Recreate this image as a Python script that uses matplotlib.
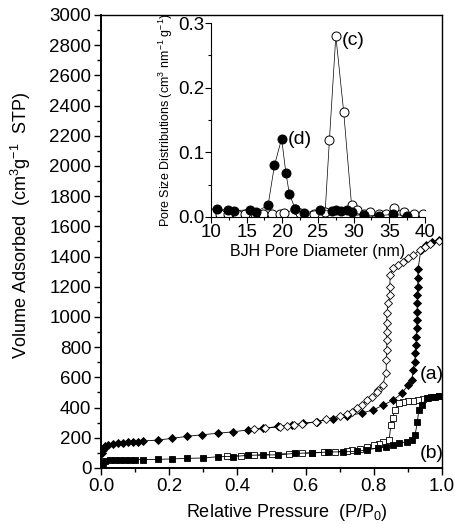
import matplotlib
matplotlib.use("Agg")
import matplotlib.pyplot as plt
from matplotlib.ticker import MultipleLocator

plt.rcParams['font.family'] = ['Liberation Sans', 'DejaVu Sans']
plt.rcParams['mathtext.fontset'] = 'custom'
plt.rcParams['mathtext.rm'] = 'Liberation Sans'
plt.rcParams['mathtext.it'] = 'Liberation Sans:italic'

# ----------------------
# Isotherm (a): adsorption (filled diamonds) / desorption (open diamonds)
# ----------------------
a_ads_p = [0.004, 0.006, 0.008, 0.012, 0.021, 0.036, 0.051, 0.065, 0.080, 0.095, 0.109, 0.124,
           0.168, 0.207, 0.251, 0.295, 0.344, 0.388, 0.432, 0.475, 0.520, 0.560, 0.593, 0.633,
           0.680, 0.720, 0.764, 0.798, 0.828, 0.857, 0.882, 0.901, 0.911, 0.916, 0.920, 0.922,
           0.924, 0.925, 0.926, 0.927, 0.927, 0.928, 0.928, 0.929, 0.929, 0.930, 0.938, 0.952,
           0.972, 0.990]
a_ads_v = [97, 119, 135, 145, 152, 159, 163, 168, 170, 172, 174, 179,
           185, 196, 209, 220, 230, 240, 252, 263, 275, 286, 296, 307,
           325, 344, 364, 384, 417, 450, 494, 550, 583, 649, 705, 760,
           815, 870, 925, 980, 1035, 1090, 1145, 1200, 1255, 1320, 1444, 1477,
           1497, 1510]

a_des_p = [0.990, 0.965, 0.950, 0.935, 0.916, 0.901, 0.887, 0.872, 0.857, 0.848, 0.847, 0.847,
           0.843, 0.838, 0.838, 0.838, 0.838, 0.838, 0.837, 0.836, 0.826, 0.813, 0.808, 0.794,
           0.780, 0.765, 0.750, 0.735, 0.720, 0.700, 0.660, 0.630, 0.590, 0.565, 0.545, 0.525,
           0.480, 0.450]
a_des_v = [1505, 1481, 1466, 1444, 1410, 1388, 1366, 1344, 1322, 1278, 1200, 1146,
           1093, 1026, 960, 900, 848, 780, 715, 629, 550, 517, 506, 472,
           450, 420, 397, 373, 360, 345, 322, 305, 292, 285, 278, 273,
           263, 255]

# ----------------------
# Isotherm (b): adsorption (filled squares) / desorption (open squares)
# ----------------------
b_ads_p = [0.003, 0.005, 0.012, 0.026, 0.040, 0.055, 0.070, 0.085, 0.100, 0.124, 0.168, 0.207,
           0.251, 0.300, 0.344, 0.388, 0.432, 0.475, 0.520, 0.570, 0.620, 0.666, 0.710, 0.750,
           0.780, 0.812, 0.835, 0.857, 0.875, 0.896, 0.912, 0.921, 0.928, 0.932, 0.940, 0.955,
           0.968, 0.979, 0.990]
b_ads_v = [12, 33, 44, 50, 52, 53, 54, 55, 55, 56, 57, 60,
           64, 66, 75, 76, 84, 86, 87, 97, 100, 106, 107, 110,
           120, 132, 141, 150, 165, 174, 185, 218, 307, 384, 417, 461,
           468, 472, 477]

b_des_p = [0.990, 0.975, 0.960, 0.945, 0.930, 0.916, 0.901, 0.887, 0.875, 0.862, 0.855, 0.850,
           0.845, 0.828, 0.815, 0.800, 0.780, 0.760, 0.735, 0.720, 0.686, 0.655, 0.620, 0.590,
           0.550, 0.500, 0.450, 0.410, 0.370]
b_des_v = [477, 472, 466, 460, 452, 446, 442, 439, 428, 384, 330, 285,
           185, 174, 162, 152, 141, 128, 119, 110, 108, 104, 100, 98,
           95, 90, 85, 82, 77]

# ----------------------
# Pore size distributions (inset)
# ----------------------
c_diam = [10.3, 11.2, 12.4, 13.6, 14.8, 16.2, 17.3, 18.5, 19.7, 20.3, 21.8, 22.5, 24.4,
          26.0, 26.6, 27.5, 28.6, 29.7, 30.4, 31.4, 32.3, 33.5, 34.6, 35.6, 37.0, 38.4, 39.7]
c_psd = [0.006, 0.004, 0.004, 0.004, 0.004, 0.004, 0.004, 0.004, 0.004, 0.006, 0.012, 0.006, 0.004,
         0.007, 0.119, 0.280, 0.163, 0.019, 0.011, 0.004, 0.008, 0.004, 0.004, 0.014, 0.007, 0.005, 0.004]

d_diam = [10.8, 12.4, 13.2, 15.5, 16.3, 18.0, 18.9, 19.9, 20.5, 21.0, 21.8, 23.0, 25.3,
          26.9, 27.5, 28.2, 29.0, 29.7, 31.5, 33.5, 35.5, 37.5]
d_psd = [0.013, 0.011, 0.010, 0.011, 0.008, 0.018, 0.080, 0.121, 0.068, 0.035, 0.013, 0.006, 0.011,
         0.010, 0.011, 0.010, 0.011, 0.007, 0.003, 0.002, 0.004, 0.002]

fig = plt.figure(figsize=(4.56, 5.24), dpi=100)
ax = fig.add_axes([0.2215, 0.1069, 0.7478, 0.8645])

line_kw = dict(color='black', lw=0.6)
ax.plot(a_ads_p, a_ads_v, marker='D', ms=3.8, mfc='black', mec='black', mew=0.6, **line_kw)
ax.plot(a_des_p, a_des_v, marker='D', ms=4.2, mfc='white', mec='black', mew=0.6, **line_kw)
ax.plot(b_des_p, b_des_v, marker='s', ms=5.0, mfc='white', mec='black', mew=0.6, **line_kw)
ax.plot(b_ads_p, b_ads_v, marker='s', ms=5.0, mfc='black', mec='black', mew=0.6, **line_kw)

ax.set_xlim(0, 1.0)
ax.set_ylim(0, 3000)
ax.xaxis.set_major_locator(MultipleLocator(0.2))
ax.xaxis.set_minor_locator(MultipleLocator(0.1))
ax.yaxis.set_major_locator(MultipleLocator(200))
ax.yaxis.set_minor_locator(MultipleLocator(100))
ax.xaxis.set_major_formatter(plt.FormatStrFormatter('%.1f'))
ax.tick_params(which='major', direction='out', length=5, width=1, labelsize=13.5, pad=2)
ax.tick_params(which='minor', direction='out', length=3, width=1)
for side in ['left', 'bottom']:
    ax.spines[side].set_linewidth(1.4)
for side in ['top', 'right']:
    ax.spines[side].set_linewidth(1.0)

ax.set_xlabel('Relative Pressure  (P/P$_\\mathregular{0}$)', fontsize=13)
ax.xaxis.set_label_coords(0.545, -0.074)
ax.set_ylabel('Volume Adsorbed  (cm$^\\mathregular{3}$g$^\\mathregular{-1}$  STP)', fontsize=13)
ax.yaxis.set_label_coords(-0.2, 0.535)

ax.text(0.971, 616, '(a)', fontsize=14, ha='center', va='center')
ax.text(0.971, 95, '(b)', fontsize=14, ha='center', va='center')

# inset
ins = fig.add_axes([0.4627, 0.5859, 0.4693, 0.3702])
ins.set_facecolor('none')
ins.plot(c_diam, c_psd, marker='o', ms=6.5, mfc='white', mec='black', mew=0.7, color='black', lw=0.5)
ins.plot(d_diam, d_psd, marker='o', ms=6.5, mfc='black', mec='black', mew=0.7, color='black', lw=0.5)
ins.set_xlim(10, 40)
ins.set_ylim(0, 0.3)
ins.xaxis.set_major_locator(MultipleLocator(5))
ins.xaxis.set_minor_locator(MultipleLocator(2.5))
ins.yaxis.set_major_locator(MultipleLocator(0.1))
ins.yaxis.set_minor_locator(MultipleLocator(0.05))
ins.tick_params(which='major', direction='out', length=4, width=0.8, labelsize=13.5, pad=1)
ins.tick_params(which='minor', direction='out', length=2.5, width=0.8)
ins.spines['top'].set_visible(False)
ins.spines['right'].set_visible(False)
for side in ['left', 'bottom']:
    ins.spines[side].set_linewidth(0.8)
ins.set_xlabel('BJH Pore Diameter (nm)', fontsize=11.5, labelpad=2)
ins.set_ylabel('Pore Size Distributions (cm$^\\mathregular{3}$ nm$^\\mathregular{-1}$ g$^\\mathregular{-1}$)',
               fontsize=9, labelpad=2)
ins.text(28.3, 0.273, '(c)', fontsize=14, ha='left', va='center')
ins.text(20.7, 0.120, '(d)', fontsize=14, ha='left', va='center')

fig.savefig('out.png', dpi=100)
